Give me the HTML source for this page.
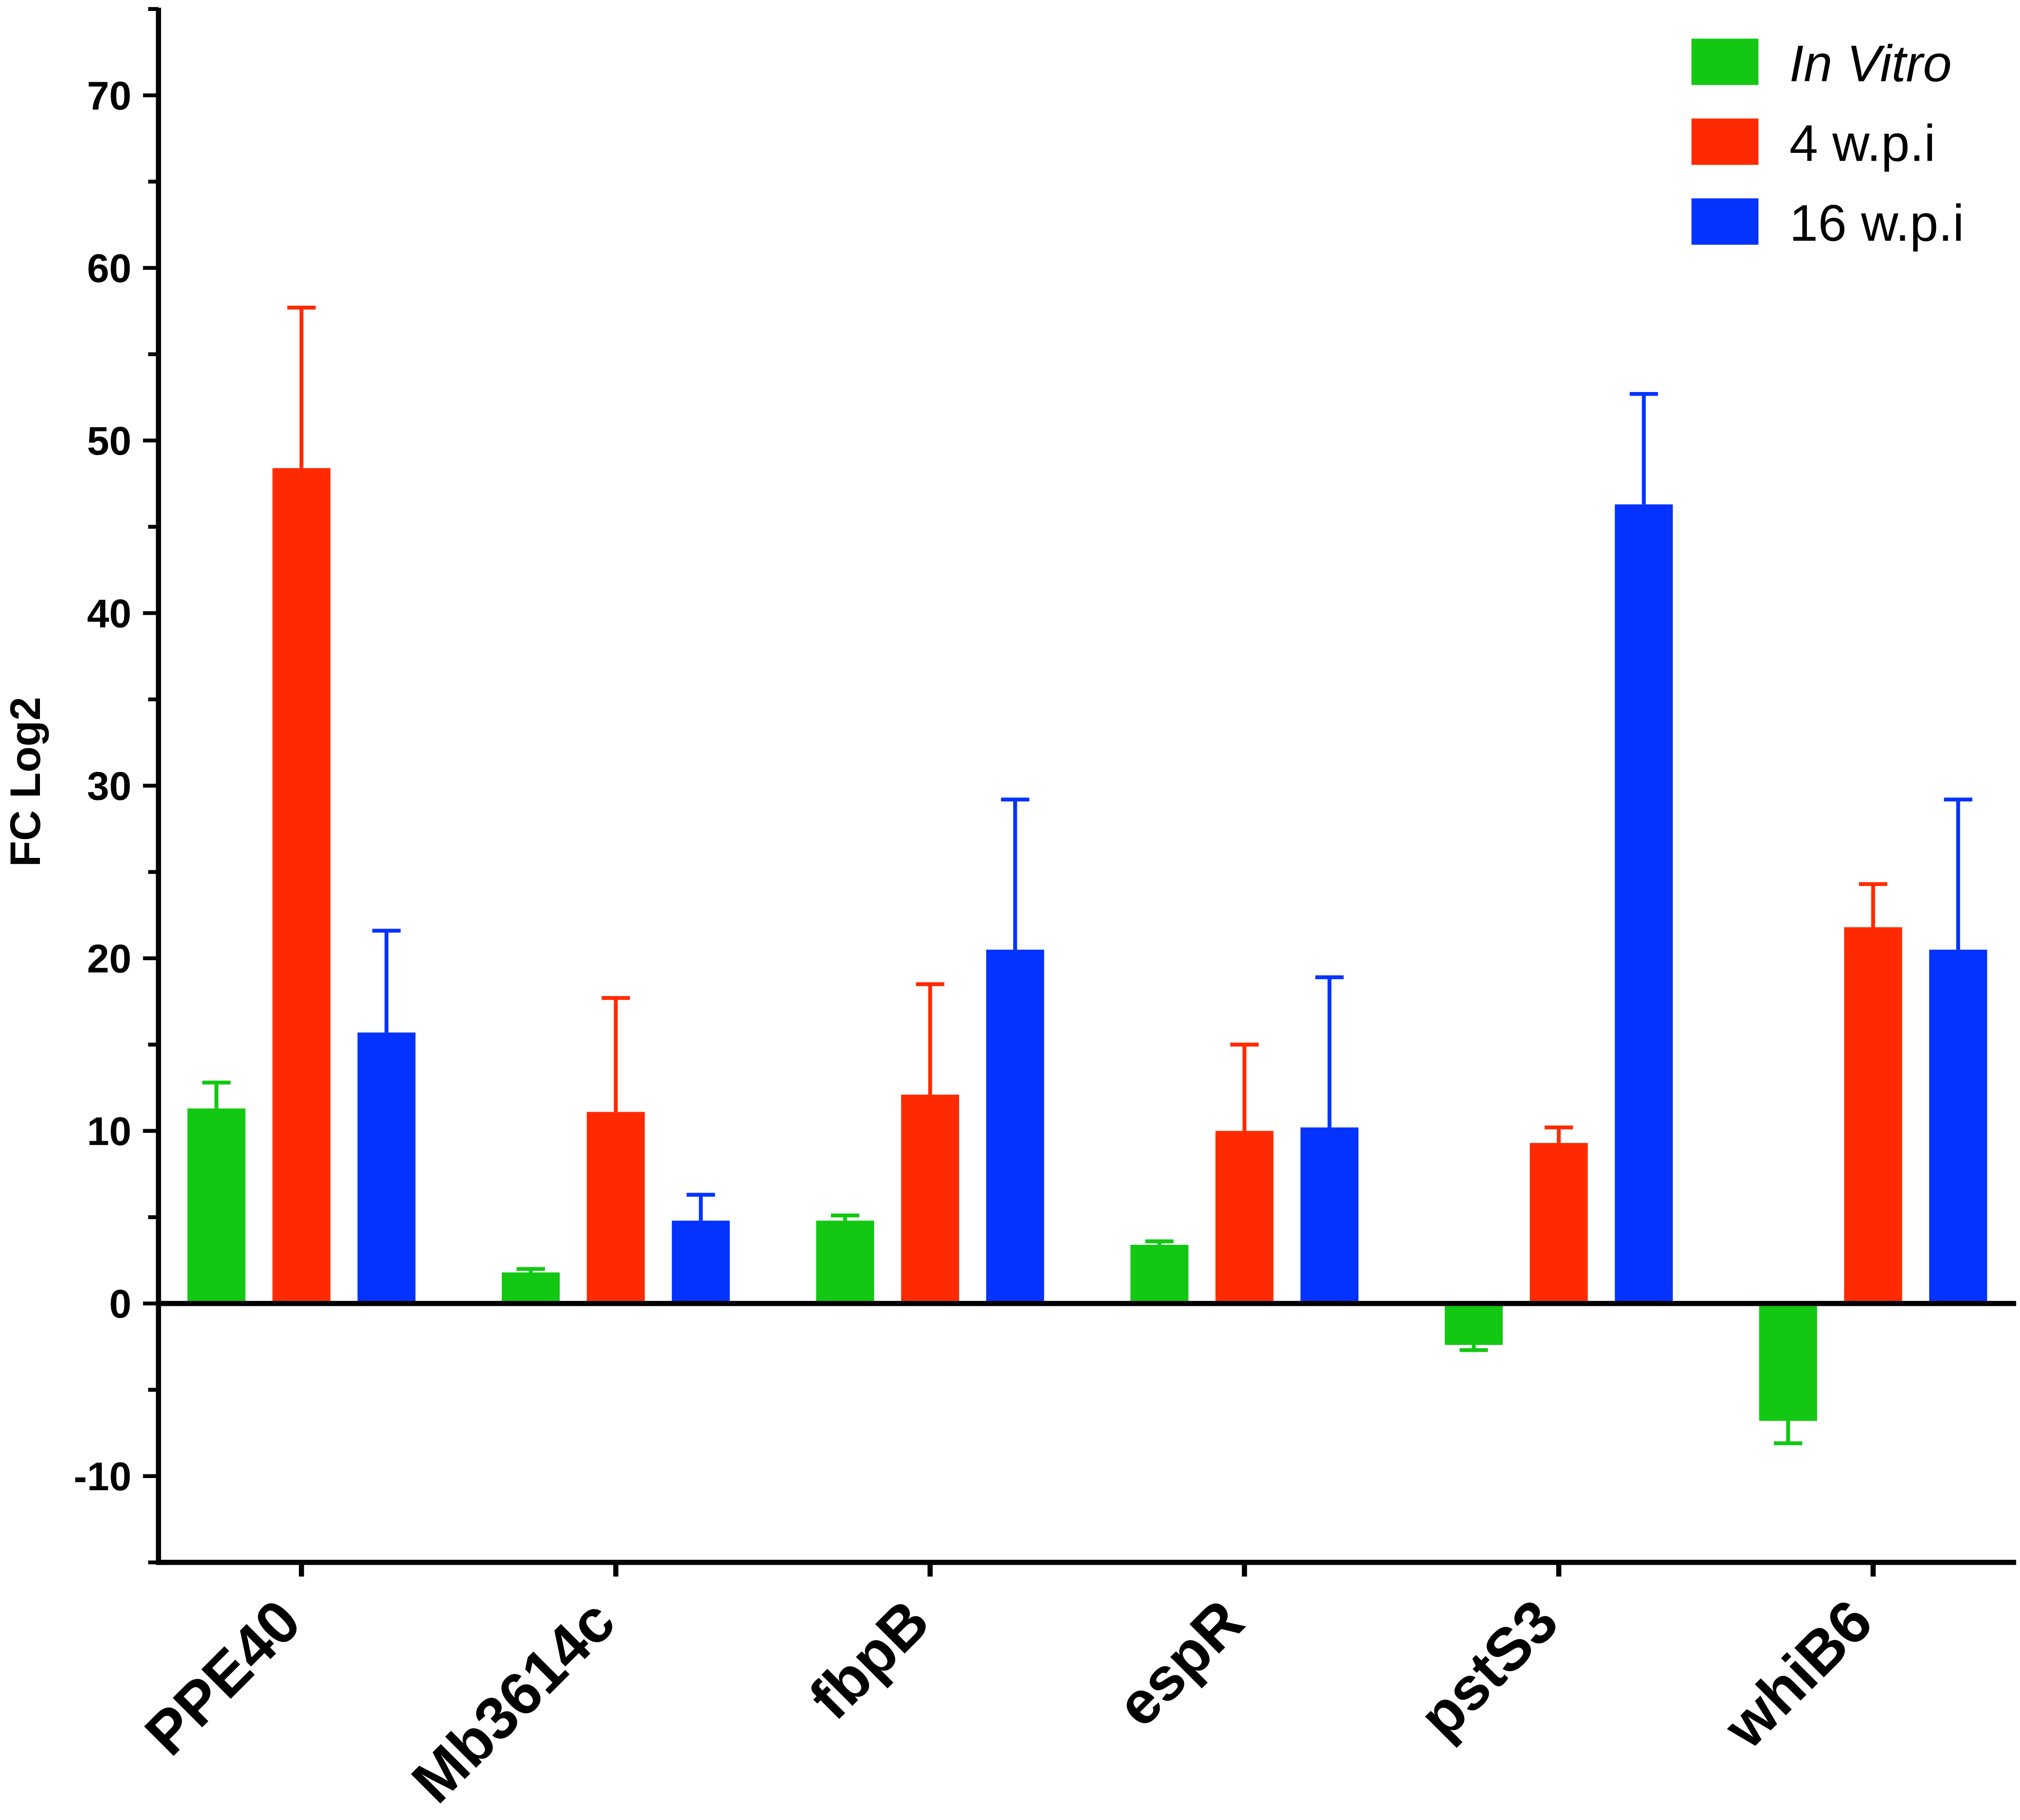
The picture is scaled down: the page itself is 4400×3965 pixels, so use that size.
<!DOCTYPE html>
<html><head><meta charset="utf-8"><style>html,body{margin:0;padding:0;background:#fff}svg{display:block}</style></head>
<body>
<svg id="chart" width="4400" height="3965" viewBox="0 0 1568 1413" xmlns="http://www.w3.org/2000/svg" font-family="Liberation Sans, sans-serif">
<g id="plot"></g>
</svg>
<script>
const categories = ["PPE40","Mb3614c","fbpB","espR","pstS3","whiB6"];
const seriesNames = ["In Vitro","4 w.p.i","16 w.p.i"];
const inVitro = [11.3,1.8,4.8,3.4,-2.4,-6.8];
const inVitroErr = [1.5,0.2,0.3,0.2,0.3,1.3];
const wpi4 = [48.4,11.1,12.1,10.0,9.3,21.8];
const wpi4Err = [9.3,6.6,6.4,5.0,0.9,2.5];
const wpi16 = [15.7,4.8,20.5,10.2,46.3,20.5];
const wpi16Err = [5.9,1.5,8.7,8.7,6.4,8.7];
const yTicks = [-10,0,10,20,30,40,50,60,70];

const NS="http://www.w3.org/2000/svg";
const g=document.getElementById('plot');
const colors=["#12c812","#ff2a00","#0433ff"];
const yS=v=>1012-v*13.4;
const xC=i=>234+i*244;
function el(t,a){const e=document.createElementNS(NS,t);for(const k in a)e.setAttribute(k,a[k]);g.appendChild(e);return e;}
const vals=[inVitro,wpi4,wpi16], errs=[inVitroErr,wpi4Err,wpi16Err];
vals.forEach((arr,s)=>{arr.forEach((v,i)=>{
 const cx=xC(i)+(s-1)*66;
 const e=errs[s][i]; const top=v>=0?v+e:v-e;
 const l=el('line',{x1:cx,x2:cx,y1:yS(v),y2:yS(top),stroke:colors[s],'stroke-width':3});
 
 
 const c=el('line',{x1:cx-11,x2:cx+11,y1:yS(top),y2:yS(top),stroke:colors[s],'stroke-width':3});
 
 
 const r=el('rect',{x:cx-22.5,y:Math.min(yS(v),yS(0)),width:45,height:Math.abs(yS(v)-yS(0)),fill:colors[s]});
 
 
});});
const z=el('line',{x1:123,x2:1565,y1:yS(0),y2:yS(0),stroke:'#000','stroke-width':4});


const ya=el('line',{x1:123,x2:123,y1:6,y2:1215,stroke:'#000','stroke-width':4});


const xa=el('line',{x1:121,x2:1565,y1:1213,y2:1213,stroke:'#000','stroke-width':4});


for(let v=-15;v<=75;v+=5){const maj=v%10===0;el('line',{x1:maj?111:115,x2:123,y1:yS(v),y2:yS(v),stroke:'#000','stroke-width':3});}
yTicks.forEach(v=>{const t=el('text',{x:102,y:yS(v)+11,'text-anchor':'end','font-size':31,'font-weight':'bold'});t.textContent=v;
 
 });
categories.forEach((c,i)=>{el('line',{x1:xC(i),x2:xC(i),y1:1213,y2:1224,stroke:'#000','stroke-width':4});
 const t=el('text',{transform:`translate(${xC(i)+2},${1262}) rotate(-45)`,'text-anchor':'end','font-size':47,'font-weight':'bold'});t.textContent=c;
 
 });
const yt=el('text',{transform:'translate(31,607) rotate(-90)','text-anchor':'middle','font-size':33,'font-weight':'bold'});yt.textContent='FC Log2';


seriesNames.forEach((n,s)=>{const y=30+s*62;
 const r=el('rect',{x:1313,y:y,width:52,height:36,fill:colors[s]});
 
 
 const t=el('text',{x:1389,y:y+33,'font-size':40});t.textContent=n;if(s===0)t.setAttribute('font-style','italic');
 
 });
</script>
</body></html>
